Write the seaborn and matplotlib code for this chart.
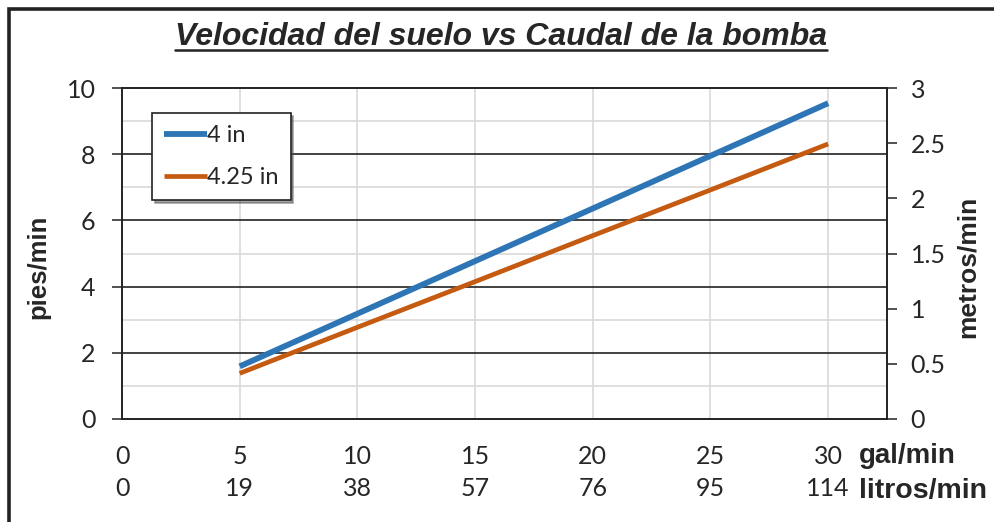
import numpy as np
import pandas as pd
import matplotlib
matplotlib.use("Agg")
import matplotlib.pyplot as plt
import seaborn as sns
from matplotlib.patches import Rectangle
from matplotlib.lines import Line2D

# datos
gal_min = [5, 10, 15, 20, 25, 30]
vel_4in = [1.59, 3.18, 4.77, 6.36, 7.95, 9.54]
vel_425in = [1.38, 2.77, 4.15, 5.54, 6.92, 8.31]
series = ["4 in", "4.25 in"]
gal_ticks = [0, 5, 10, 15, 20, 25, 30]
litros_ticks = ["0", "19", "38", "57", "76", "95", "114"]
left_ticks = [0, 2, 4, 6, 8, 10]
right_ticks = [0, 0.5, 1, 1.5, 2, 2.5, 3]
right_labels = ["0", "0.5", "1", "1.5", "2", "2.5", "3"]

df = pd.DataFrame({
    "gal": gal_min * 2,
    "vel": vel_4in + vel_425in,
    "tubo": [series[0]] * len(gal_min) + [series[1]] * len(gal_min),
})

sns.set_theme(style="white")
plt.rcParams["font.family"] = ["Lato", "DejaVu Sans"]
bold_fam = ["Liberation Sans", "DejaVu Sans"]

fig = plt.figure(figsize=(9.94, 5.22), dpi=100)
ax = fig.add_axes([122 / 994, 1 - 419 / 522, (887 - 122) / 994, (419 - 88) / 522])

# rejilla
for y in [1, 3, 5, 7, 9]:
    ax.axhline(y, color="#d9d9d9", lw=1.2, zorder=0)
for y in [2, 4, 6, 8]:
    ax.axhline(y, color="#222222", lw=1.2, zorder=1)
for x in gal_ticks[1:]:
    ax.axvline(x, color="#d9d9d9", lw=1.2, zorder=0)

palette = {"4 in": "#2e75b6", "4.25 in": "#c55a11"}
sns.lineplot(data=df, x="gal", y="vel", hue="tubo", palette=palette,
             linewidth=4.2, ax=ax, zorder=3, legend=True)
# grosor de la serie naranja
for ln in ax.get_lines():
    ln.set_solid_capstyle("butt")
    if matplotlib.colors.to_hex(ln.get_color()) == "#c55a11":
        ln.set_linewidth(3.4)

ax.set_xlim(0, 32.5)
ax.set_ylim(0, 10)
ax.set_xticks(gal_ticks)
ax.set_xticklabels([f"{g}\n{l}" for g, l in zip(gal_ticks, litros_ticks)],
                   fontsize=18, linespacing=1.45)
ax.set_yticks(left_ticks)
ax.set_yticklabels([str(v) for v in left_ticks], fontsize=18)
ax.tick_params(axis="both", direction="out", length=7, width=1.2, color="#333333")
ax.tick_params(axis="y", pad=12)
ax.tick_params(axis="x", pad=12)
ax.set_xlabel("")
ax.set_ylabel("pies/min", fontsize=18.5, fontweight="bold", family=bold_fam)
ax.yaxis.set_label_coords(-0.094, 0.459)
for s in ax.spines.values():
    s.set_visible(True)
    s.set_color("#222222")
    s.set_linewidth(1.2)

ax2 = ax.twinx()
ax2.set_ylim(0, 3)
ax2.set_yticks(right_ticks)
ax2.set_yticklabels(right_labels, fontsize=18)
ax2.tick_params(axis="y", direction="out", length=7, width=1.2, color="#333333", pad=10)
ax2.set_ylabel("metros/min", fontsize=19, fontweight="bold", family=bold_fam)
ax2.yaxis.set_label_coords(1.09, 0.459)
ax2.grid(False)
for s in ax2.spines.values():
    s.set_color("#222222")
    s.set_linewidth(1.2)

leg = ax.legend(loc="upper left", bbox_to_anchor=(0.039, 0.924), frameon=True,
                fancybox=False, shadow=True, fontsize=17, handlelength=1.85,
                handletextpad=0.0, labelspacing=0.9, borderpad=0.5, borderaxespad=0)
leg.get_frame().set_edgecolor("#222222")
leg.get_frame().set_linewidth(1.2)
leg.set_title(None)

fig.text(956 / 994, 1 - 456 / 522, "gal/min", fontsize=20, fontweight="bold",
         family=bold_fam, ha="right", va="center")
fig.text(987 / 994, 1 - 491 / 522, "litros/min", fontsize=20.5, fontweight="bold",
         family=bold_fam, ha="right", va="center")

title = fig.text(501 / 994, 1 - 37 / 522, "Velocidad del suelo vs Caudal de la bomba",
                 fontsize=23, fontweight="bold", style="italic",
                 family=bold_fam, ha="center", va="center")

# marco exterior
fig.patches.append(Rectangle((9 / 994, -0.1), 1.2, 1 - 9 / 522 + 0.1,
                             transform=fig.transFigure, fill=False,
                             edgecolor="#222222", lw=2.6, zorder=10))

# subrayado del título
fig.canvas.draw()
bb = title.get_window_extent().transformed(fig.transFigure.inverted())
fig.lines.append(Line2D([bb.x0, bb.x1], [bb.y0 + 0.004, bb.y0 + 0.004],
                        transform=fig.transFigure, color="#222222", lw=1.8))

fig.savefig("out.png", dpi=100)
